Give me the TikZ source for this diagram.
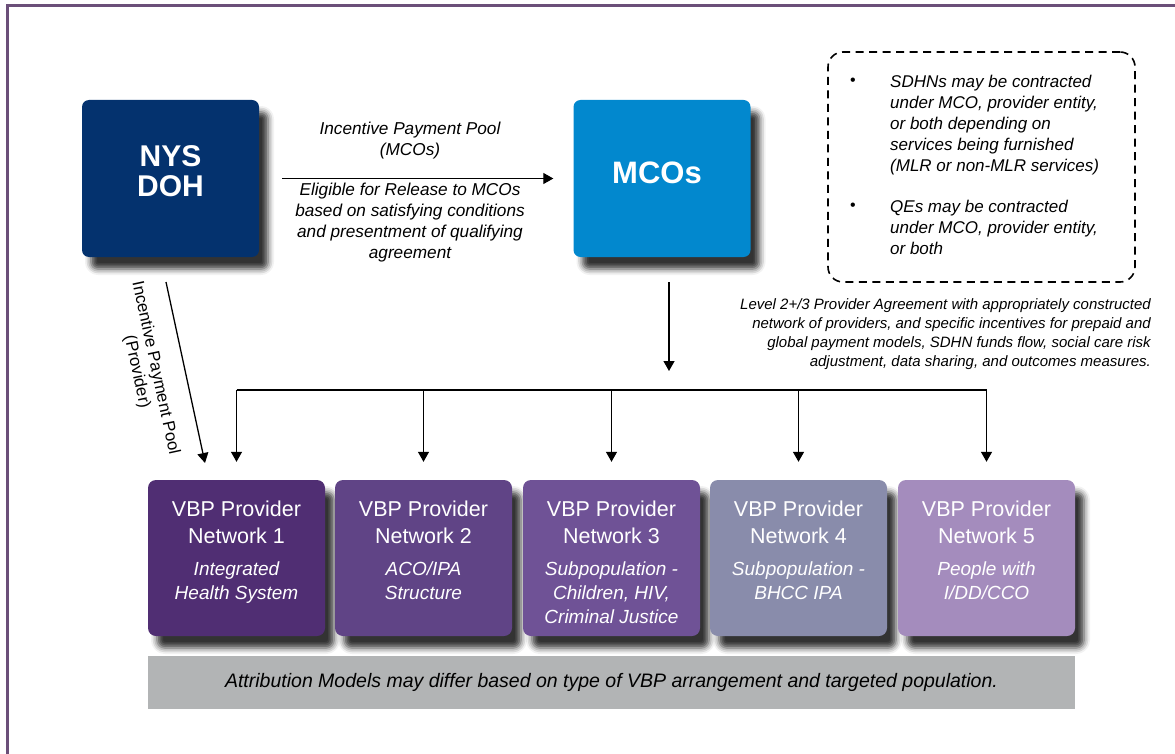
\documentclass[tikz,border=0pt]{standalone}
\usepackage{fontspec}
\setmainfont{Liberation Sans}
\usetikzlibrary{arrows.meta,shadows.blur}
\definecolor{framecol}{RGB}{107,79,121}
\definecolor{navy}{RGB}{4,50,110}
\definecolor{mcoblue}{RGB}{2,136,206}
\definecolor{netA}{RGB}{80,46,115}
\definecolor{netB}{RGB}{96,68,134}
\definecolor{netC}{RGB}{111,82,150}
\definecolor{netD}{RGB}{137,140,171}
\definecolor{netE}{RGB}{164,140,189}
\definecolor{barcol}{RGB}{178,180,181}
\begin{document}
\begin{tikzpicture}[x=1pt,y=-1pt,
  shad/.style={blur shadow={shadow xshift=9pt,shadow yshift=-12pt,shadow blur radius=6pt,shadow opacity=80}},
  topbox/.style={shad,rounded corners=7pt,minimum width=177pt,minimum height=157pt,inner sep=0pt},
  toptext/.style={text=white,font=\fontsize{30}{30}\selectfont\bfseries,align=center,inner sep=0pt},
  netbox/.style={shad,rounded corners=8pt,minimum width=177pt,minimum height=156pt,inner sep=0pt},
  nettitle/.style={text=white,font=\fontsize{21.5}{27}\selectfont,align=center,inner sep=0pt,anchor=north},
  netsub/.style={text=white,font=\fontsize{19}{24}\selectfont\itshape,align=center,inner sep=0pt,anchor=north},
  conn/.style={line width=1.3pt,-{Triangle[width=11pt,length=10pt]}},
  lbl/.style={font=\fontsize{17.2}{21}\selectfont\itshape,align=center,inner sep=0pt},
  notetext/.style={font=\fontsize{17}{21}\selectfont\itshape,align=left,inner sep=0pt,anchor=north west},
]
\useasboundingbox (0,0) rectangle (1175,754);
% frame
\draw[framecol,line width=3pt] (7,760) -- (7,6) -- (1180,6);

% top boxes
\node[topbox,fill=navy] (doh) at (170.5,178.5) {};
\node[toptext] (doht) at (170.5,171.5) {NYS\\DOH};
\node[topbox,fill=mcoblue] (mco) at (662,178.5) {};
\node[toptext,font=\fontsize{31}{31}\selectfont\bfseries] (mcot) at (657,173) {MCOs};

% NYS -> MCOs
\draw[conn,shorten <=23pt,shorten >=20pt] (doh.east) -- (mco.west);
\node[lbl] (l1) at (410,141) {Incentive Payment Pool\\(MCOs)};
\node[lbl] (l2) at (410,223) {Eligible for Release to MCOs\\based on satisfying conditions\\and presentment of qualifying\\agreement};

% dashed note
\node[draw,line width=1.6pt,dash pattern=on 8pt off 5.5pt,rounded corners=15pt,minimum width=307pt,minimum height=230pt,inner sep=0pt] (note) at (981.5,167) {};
\node[font=\fontsize{16}{16}\selectfont,inner sep=0pt] (b1) at (853,82) {•};
\node[font=\fontsize{16}{16}\selectfont,inner sep=0pt] (b2) at (853,207) {•};
\node[notetext] (t1) at (890,75) {SDHNs may be contracted\\under MCO, provider entity,\\or both depending on\\services being furnished\\(MLR or non-MLR services)};
\node[notetext] (t2) at (890,200) {QEs may be contracted\\under MCO, provider entity,\\or both};

% level text
\node[font=\fontsize{15}{19}\selectfont\itshape,align=right,inner sep=0pt,anchor=north east] (lvl) at (1151,298) {Level 2+/3 Provider Agreement with appropriately constructed\\network of providers, and specific incentives for prepaid and\\global payment models, SDHN funds flow, social care risk\\adjustment, data sharing, and outcomes measures.};

% network boxes
\node[netbox,fill=netA] (n1) at (236.5,558) {};
\node[netbox,fill=netB] (n2) at (423.5,558) {};
\node[netbox,fill=netC] (n3) at (611.5,558) {};
\node[netbox,fill=netD] (n4) at (798.5,558) {};
\node[netbox,fill=netE] (n5) at (986.5,558) {};

\node[nettitle] (h1) at (236.5,500.5) {VBP Provider\\Network 1};
\node[nettitle] (h2) at (423.5,500.5) {VBP Provider\\Network 2};
\node[nettitle] (h3) at (611.5,500.5) {VBP Provider\\Network 3};
\node[nettitle] (h4) at (798.5,500.5) {VBP Provider\\Network 4};
\node[nettitle] (h5) at (986.5,500.5) {VBP Provider\\Network 5};

\node[netsub] (s1) at (236.5,562) {Integrated\\Health System};
\node[netsub] (s2) at (423.5,562) {ACO/IPA\\Structure};
\node[netsub] (s3) at (611.5,562) {Subpopulation -\\Children, HIV,\\Criminal Justice};
\node[netsub] (s4) at (798.5,562) {Subpopulation -\\BHCC IPA};
\node[netsub] (s5) at (986.5,562) {People with\\I/DD/CCO};

% bus
\coordinate (bus) at (0,390);
\coordinate (mcos) at (669,282);
\coordinate (mcoe) at (669,371);
\draw[conn] (mcos) -- (mcoe);
\draw[line width=1.3pt] (n1.north |- bus) -- (n5.north |- bus);
\foreach \n in {n1,n2,n3,n4,n5}{
  \draw[conn,shorten >=18pt] (\n.north |- bus) -- (\n.north);
}

% diagonal provider arrow
\coordinate (ds) at (166,282);
\coordinate (de) at (205,463);
\draw[conn] (ds) -- (de);
\node[rotate=-77.8,font=\fontsize{16.8}{19}\selectfont,align=center,inner sep=0pt] (dl) at (146,370) {Incentive Payment Pool\\(Provider)};

% attribution bar
\node[fill=barcol,minimum width=927pt,minimum height=53pt,inner sep=0pt,font=\fontsize{19.5}{22}\selectfont\itshape] (attr) at (611.5,682.5) {Attribution Models may differ based on type of VBP arrangement and targeted population.};
\end{tikzpicture}
\end{document}
